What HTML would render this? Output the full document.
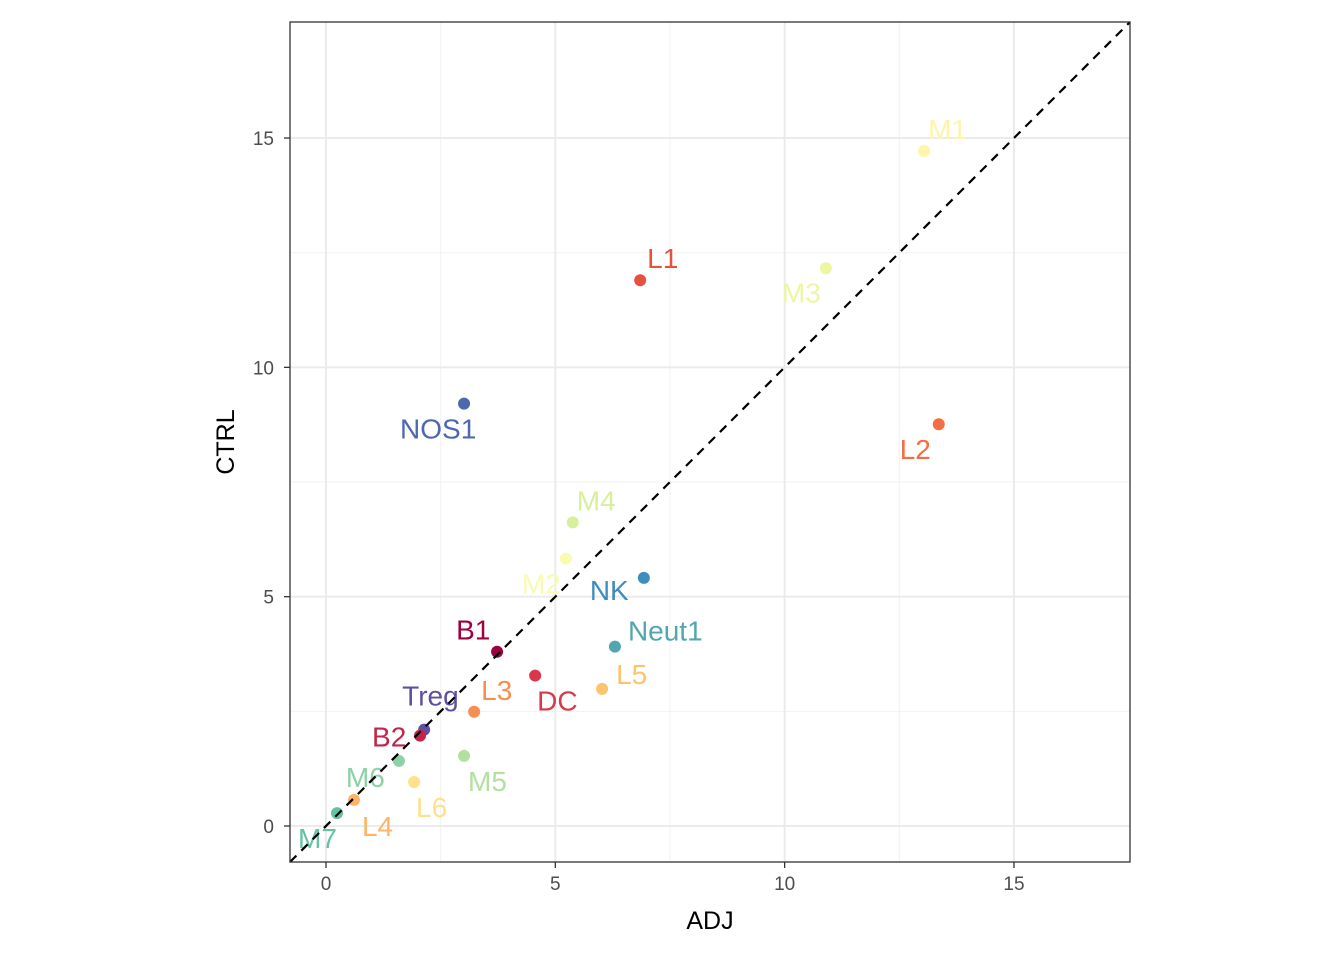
<!DOCTYPE html>
<html><head><meta charset="utf-8"><style>
html,body{margin:0;padding:0;background:#fff;}
svg{display:block;font-family:"Liberation Sans",Arial,sans-serif;}
</style></head><body>
<svg id="chart" width="1344" height="960" viewBox="0 0 1344 960" xmlns="http://www.w3.org/2000/svg">
<rect x="0" y="0" width="1344" height="960" fill="#fff"/>
<g id="grid"></g>
<g id="refline"></g>
<g id="points"></g>
<g id="labels"></g>
<rect x="290" y="22" width="840" height="840" fill="none" stroke="#333" stroke-width="1.3"/>
<g id="axes"></g>
<text x="710" y="929" font-size="25" text-anchor="middle" fill="#000">ADJ</text>
<text transform="translate(234,442) rotate(-90)" font-size="25" text-anchor="middle" fill="#000">CTRL</text>
</svg>
<script>
const names = ["M1","L1","M3","L2","NOS1","M4","M2","NK","B1","Neut1","DC","L5","L3","Treg","B2","M6","M5","L6","L4","M7"];
const adj = [13.04,6.85,10.90,13.36,3.01,5.38,5.23,6.93,3.73,6.30,4.56,6.02,3.23,2.14,2.05,1.59,3.01,1.92,0.61,0.24];
const ctrl = [14.72,11.90,12.16,8.76,9.21,6.62,5.83,5.41,3.80,3.91,3.28,2.99,2.49,2.10,1.97,1.42,1.53,0.96,0.57,0.28];
const colors = ["#FDF5AA","#E8513F","#EEF6A2","#F46D43","#4D68AE","#D8EF9B","#F8FBB0","#3D8DBF","#9E0142","#52A6AD","#D8384A","#FDC470","#F88D52","#5E4FA2","#C1254A","#8CD2A4","#B3E0A0","#FEE18C","#FDB466","#66C2A5"];
const labelDx = [4,7,-44,-39,-64,4,-44,-54,-41,13,2,14,7,-22,-48,-53,4,2,8,-39];
const labelDy = [-13,-13,33,34,34,-13,34,21,-13,-7,34,-6,-13,-25,10,25,34,34,35,34];
const xTicks = [0,5,10,15];
const yTicks = [0,5,10,15];
const xMinor = [2.5,7.5,12.5];
const yMinor = [2.5,7.5,12.5];
const dom = [-0.785,17.53];
const P0 = 290, P1 = 1130, T0 = 22, T1 = 862;
const sx = v => P0 + (v - dom[0]) / (dom[1] - dom[0]) * (P1 - P0);
const sy = v => T1 - (v - dom[0]) / (dom[1] - dom[0]) * (T1 - T0);
const NS = "http://www.w3.org/2000/svg";
function mk(tag, attrs, parent){const e=document.createElementNS(NS,tag);for(const k in attrs)e.setAttribute(k,attrs[k]);parent.appendChild(e);return e;}
const grid=document.getElementById('grid'), axes=document.getElementById('axes');
xMinor.forEach(v=>{const l=mk('line',{x1:sx(v),x2:sx(v),y1:T0,y2:T1,stroke:'#f2f2f2','stroke-width':1},grid);

});
yMinor.forEach(v=>{const l=mk('line',{x1:P0,x2:P1,y1:sy(v),y2:sy(v),stroke:'#f2f2f2','stroke-width':1},grid);

});
xTicks.forEach(v=>{const l=mk('line',{x1:sx(v),x2:sx(v),y1:T0,y2:T1,stroke:'#ebebeb','stroke-width':2},grid);


const t=mk('line',{x1:sx(v),x2:sx(v),y1:T1,y2:T1+6,stroke:'#333','stroke-width':1.3},axes);


const tx=mk('text',{x:sx(v),y:T1+28,'font-size':19,'text-anchor':'middle',fill:'#4d4d4d'},axes);tx.textContent=v;

});
yTicks.forEach(v=>{const l=mk('line',{x1:P0,x2:P1,y1:sy(v),y2:sy(v),stroke:'#ebebeb','stroke-width':2},grid);


const t=mk('line',{x1:P0-6,x2:P0,y1:sy(v),y2:sy(v),stroke:'#333','stroke-width':1.3},axes);


const tx=mk('text',{x:P0-16,y:sy(v)+7,'font-size':19,'text-anchor':'end',fill:'#4d4d4d'},axes);tx.textContent=v;

});
const pts=document.getElementById('points'), labs=document.getElementById('labels');
names.forEach((n,i)=>{const c=mk('circle',{cx:sx(adj[i]),cy:sy(ctrl[i]),r:6,fill:colors[i]},pts);


const t=mk('text',{x:sx(adj[i])+labelDx[i],y:sy(ctrl[i])+labelDy[i]+1,'font-size':28,fill:colors[i]},labs);t.textContent=n;

});
const d=mk('line',{x1:sx(dom[0]),y1:sy(dom[0]),x2:sx(dom[1]),y2:sy(dom[1]),stroke:'#000','stroke-width':2.2,'stroke-dasharray':'9,7'},labs);


</script>
</body></html>
